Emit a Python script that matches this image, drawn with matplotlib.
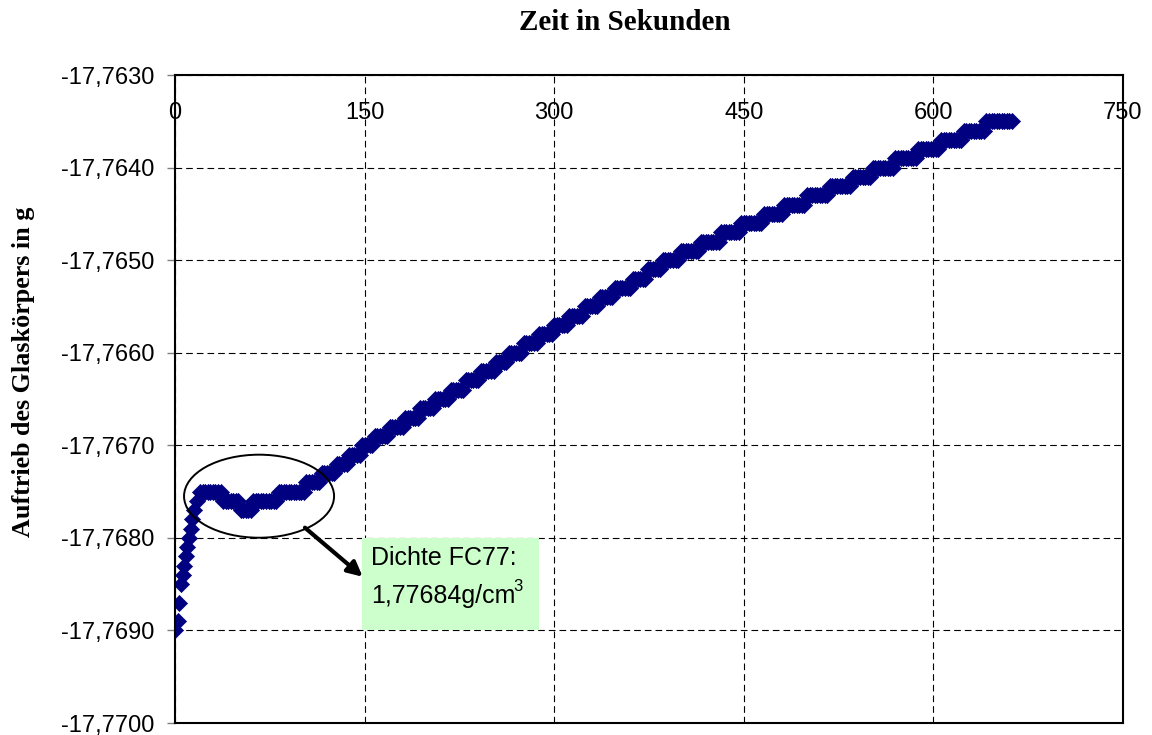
import numpy as np
import matplotlib
matplotlib.use("Agg")
import matplotlib.pyplot as plt
from matplotlib.patches import Ellipse, Rectangle
from matplotlib.ticker import FuncFormatter, MultipleLocator

# Initial settling phase: individual readings (time in s, buoyancy in g)
rise_time = [0, 2, 3.5, 4.5, 6.5, 7.5, 8.5, 9.5, 11, 12.5, 13.5, 15, 17.5]
rise_value = [-17.7690, -17.7689, -17.7687, -17.7685, -17.7684, -17.7683,
              -17.7682, -17.7681, -17.7680, -17.7679, -17.7678, -17.7677,
              -17.7676]

# Balance readout afterwards: each displayed value and the time it first appears
level_value = [-17.7675, -17.7676, -17.7677, -17.7676, -17.7675, -17.7674,
               -17.7673, -17.7672, -17.7671, -17.7670, -17.7669, -17.7668,
               -17.7667, -17.7666, -17.7665, -17.7664, -17.7663, -17.7662,
               -17.7661, -17.7660, -17.7659, -17.7658, -17.7657, -17.7656,
               -17.7655, -17.7654, -17.7653, -17.7652, -17.7651, -17.7650,
               -17.7649, -17.7648, -17.7647, -17.7646, -17.7645, -17.7644,
               -17.7643, -17.7642, -17.7641, -17.7640, -17.7639, -17.7638,
               -17.7637, -17.7636, -17.7635]
level_start = [20, 38, 52, 62, 82, 104,
               116, 127, 137, 147, 158, 170,
               182, 194, 206, 218, 230, 242,
               254, 264, 276, 288, 300, 312,
               324, 336, 348, 360.5, 373, 386,
               400, 415, 431, 448, 465, 482,
               499.5, 517, 534.5, 552, 570, 588,
               606, 624, 642]
last_reading_s = 662
reading_interval_s = 2

x_ticks = [0, 150, 300, 450, 600, 750]

# Expand the readout table into the logged readings
log_time = np.arange(level_start[0], last_reading_s + 0.1, reading_interval_s)
idx = np.searchsorted(level_start, log_time, side="right") - 1
log_value = np.asarray(level_value)[idx]

time_s = np.concatenate([rise_time, log_time])
buoyancy = np.concatenate([rise_value, log_value])

sans = "Liberation Sans"
serif = "Liberation Serif"

W, H = 1152, 735
fig = plt.figure(figsize=(W / 100, H / 100), dpi=100)
L, R, T, B = 175, 1123, 75, 723
ax = fig.add_axes([L / W, 1 - B / H, (R - L) / W, (B - T) / H])

ax.set_xlim(0, 750)
ax.set_ylim(-17.7700, -17.7630)

ax.scatter(time_s, buoyancy, marker="D", s=8.2 ** 2, color="#000080",
           edgecolors="#000080", linewidths=0.5, zorder=3)

# Grid
ax.set_xticks(x_ticks)
ax.yaxis.set_major_locator(MultipleLocator(0.001))
ax.grid(True, color="black", linewidth=0.8, linestyle=(0, (6, 3.6)), zorder=1)
ax.set_axisbelow(True)

for s in ax.spines.values():
    s.set_linewidth(1.5)
    s.set_color("black")
    s.set_zorder(5)

ax.xaxis.tick_top()
ax.tick_params(axis="x", top=True, bottom=False, labeltop=True,
               labelbottom=False, length=0, pad=-35.5, labelsize=17)
ax.tick_params(axis="y", left=True, right=False, length=6, width=1,
               color="#808080", pad=8.5, labelsize=17)
for lab in ax.get_xticklabels() + ax.get_yticklabels():
    lab.set_fontfamily(sans)
ax.yaxis.set_major_formatter(
    FuncFormatter(lambda v, p: f"{v:.4f}".replace(".", ",")))

# Highlight of the plateau and density note
ax.add_patch(Ellipse((66.5, -17.76755), 118.7, 0.000897, fill=False,
                     edgecolor="black", linewidth=1.4, zorder=4))
ax.annotate("", xy=(148.5, -17.76842), xytext=(102.8, -17.76789),
            arrowprops=dict(arrowstyle="-|>", color="black", lw=3,
                            mutation_scale=22, shrinkA=0, shrinkB=0),
            zorder=4)
ax.add_patch(Rectangle((148.0, -17.7690), 140.0, 0.0010, facecolor="#CCFFCC",
                       edgecolor="none", zorder=2))
ax.text(0.2064, 0.2438, "Dichte FC77:", transform=ax.transAxes, fontsize=18,
        family=sans, va="baseline", ha="left", zorder=4)
ax.text(0.2064, 0.1852, "1,77684g/cm", transform=ax.transAxes,
        fontsize=18, family=sans, va="baseline", ha="left", zorder=4)
sup_x = (513 - L) / (R - L)
ax.text(sup_x, 0.1852 + 12 / (B - T), "3", transform=ax.transAxes,
        fontsize=12, family=sans, va="baseline", ha="left", zorder=4)

# Axis titles
fig.text(625 / W, 1 - 23 / H, "Zeit in Sekunden", family=serif,
         fontweight="bold", fontsize=21, ha="center", va="center")
fig.text(24 / W, 1 - 372 / H, "Auftrieb des Glaskörpers in g", family=serif,
         fontweight="bold", fontsize=18.8, ha="center", va="center",
         rotation=90)

fig.savefig("out.png", dpi=100)
